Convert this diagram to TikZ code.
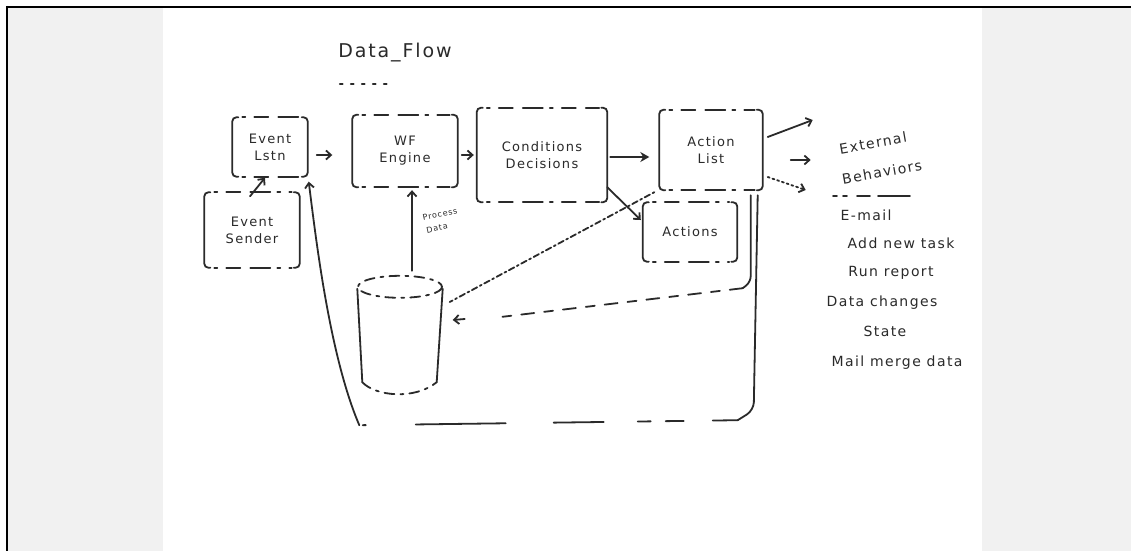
\documentclass[tikz,border=0pt]{standalone}
\usepackage{fontspec}
\setsansfont[LetterSpace=10]{DejaVu Sans}
\usetikzlibrary{arrows.meta,calc}

\definecolor{sidegrey}{HTML}{F1F1F1}
\definecolor{pen}{HTML}{2A2A2A}

\tikzset{
  ink/.style={draw=pen, line width=1.8pt, line cap=round},
  hand/.style={font=\sffamily\fontsize{13}{17}\selectfont, text=pen, align=center},
  boxnode/.style={hand, inner sep=0pt, minimum width=#1},
  arr/.style={ink, -{Straight Barb[length=5pt,width=9pt]}},
  sidestroke/.style={ink, rounded corners=4pt},
  rimstroke/.style={ink, dash pattern=on 3pt off 9pt on 14pt off 10pt on 20pt off 7pt},
  lighttext/.style={hand, font=\sffamily\fontsize{14}{18}\selectfont},
  tinytext/.style={hand, font=\sffamily\fontsize{8}{9}\selectfont, inner sep=1pt},
}

% draws the broken hand-drawn outline of a box node
\newcommand{\sketchbox}[1]{%
  \draw[sidestroke] ($(#1.north west)+(6,0)$) -- (#1.north west) -- (#1.south west) -- ($(#1.south west)+(6,0)$);
  \draw[sidestroke] ($(#1.north east)+(-6,0)$) -- (#1.north east) -- (#1.south east) -- ($(#1.south east)+(-6,0)$);
  \draw[rimstroke] ($(#1.north west)+(10,0)$) -- ($(#1.north east)+(-8,0)$);
  \draw[rimstroke] ($(#1.south west)+(10,0)$) -- ($(#1.south east)+(-8,0)$);
}

\begin{document}
\begin{tikzpicture}[x=1pt, y=-1pt]
  \useasboundingbox (0,0) rectangle (1131,551);
  % page and side margins
  \fill[white] (0,0) rectangle (1131,551);
  \fill[sidegrey] (8,8) rectangle (163,551);
  \fill[sidegrey] (982,8) rectangle (1131,551);
  \draw[black, line width=2.2pt] (6,7) -- (1131,7);
  \draw[black, line width=2.2pt] (7,6) -- (7,551);

  % title
  \node[hand, font=\sffamily\fontsize{19}{22}\selectfont] (title) at (395,53) {Data\_Flow};
  \draw[ink, dash pattern=on 3pt off 8pt] ($(title.south west)+(5,18)$) -- ($(title.south west)+(55,18)$);

  % process boxes
  \node[boxnode=75pt, minimum height=59pt] (lstn) at (270,147) {Event\\Lstn};
  \node[boxnode=95pt, minimum height=75pt] (sender) at (252,230) {Event\\Sender};
  \node[boxnode=105pt, minimum height=72pt] (wf) at (405,151) {WF\\Engine};
  \node[boxnode=130pt, minimum height=94pt] (cond) at (542,155) {Conditions\\Decisions};
  \node[boxnode=103pt, minimum height=80pt] (alist) at (711,150) {Action\\List};
  \node[boxnode=94pt, minimum height=59pt] (acts) at (690,232) {Actions};
  \foreach \b in {lstn,sender,wf,cond,alist,acts} {\sketchbox{\b}}

  % data store
  \node[inner sep=0pt, minimum width=85pt, minimum height=122pt] (db) at (400,337) {};
  \draw[ink, dash pattern=on 10pt off 6pt on 3pt off 6pt] ($(db.north)+(0,11)$) ellipse [x radius=42, y radius=11];
  \draw[ink] ($(db.north west)+(0,13)$) -- ($(db.south west)+(5,-16)$);
  \draw[ink] ($(db.north east)+(0,13)$) -- ($(db.south east)+(-6,-16)$);
  \draw[ink, dash pattern=on 10pt off 6pt on 3pt off 6pt] ($(db.south west)+(5,-16)$)
    .. controls ($(db.south west)+(18,-2)$) and ($(db.south east)+(-28,2)$) .. ($(db.south east)+(-6,-16)$);

  % main flow
  \draw[arr] ($(lstn.east)+(9,8)$) -- ($(wf.west)+(-20,4)$);
  \draw[arr] ($(wf.east)+(4,4)$) -- ($(cond.west)+(-3,0)$);
  \draw[arr, -{Stealth[length=9pt,width=10pt]}] ($(cond.east)+(3,2)$) -- ($(alist.west)+(-10,7)$);
  \draw[arr] ($(sender.north)+(-2,4)$) -- ($(lstn.south)+(-5,1)$);
  \draw[arr] ($(cond.south east)+(0,-15)$) -- ($(acts.west)+(-2,-12)$);
  \draw[arr] ($(db.north)+(12,-5)$) -- ($(wf.south)+(7,3)$);
  \node[tinytext, rotate=12] (proc1) at (440,214) {Process};
  \node[tinytext, rotate=12] (proc2) at (437,228) {Data};

  % outputs to external behaviours
  \draw[arr] ($(alist.east)+(5,-13)$) -- ($(alist.east)+(50,-30)$);
  \draw[arr] ($(alist.east)+(28,10)$) -- ($(alist.east)+(48,10)$);
  \draw[arr, dash pattern=on 2pt off 3pt] ($(alist.east)+(5,27)$) -- ($(alist.east)+(43,40)$);

  % data written back
  \draw[ink, dash pattern=on 2pt off 3pt on 6pt off 3pt] ($(alist.south west)+(-5,2)$) -- ($(db.east)+(7,-35)$);
  \coordinate (ret) at ($(alist.south east)+(-12,98)$);
  \draw[ink, rounded corners=6pt] ($(alist.south east)+(-12,5)$) -- ($(ret)+(0,-6)$) -- ($(ret)+(-8,0)$);
  \draw[ink, dash pattern=on 13pt off 10pt on 9pt off 10pt] ($(ret)+(-8,0)$) -- ($(db.east)+(58,-20)$);
  \draw[arr] ($(db.east)+(22,-18)$) -- ($(db.east)+(10,-17)$);

  % loop back to the listener
  \coordinate (lr) at ($(alist.south east)+(-9,220)$);
  \coordinate (ll) at ($(db.south west)+(2,27)$);
  \draw[ink, rounded corners=8pt] ($(alist.south east)+(-5,5)$) -- (lr) -- ($(lr)+(-16,10)$);
  \draw[ink, dash pattern=on 25pt off 29pt on 18pt off 15pt on 13pt off 34pt on 50pt off 48pt on 90pt off 50pt on 3pt off 5pt]
    ($(lr)+(-16,10)$) -- (ll);
  \draw[arr] (ll) .. controls ($(ll)+(-30,-70)$) and ($(lstn.south east)+(8,60)$) .. ($(lstn.south east)+(1,5)$);

  % external behaviours
  \node[lighttext, rotate=10, inner sep=1pt] (ext1) at (873,143) {External};
  \node[lighttext, rotate=10, inner sep=1pt] (ext2) at (882,172) {Behaviors};
  \draw[ink, dash pattern=on 4pt off 6pt on 4pt off 10pt on 13pt off 8pt on 32pt off 0pt] (833,196) -- (910,196);
  \node[lighttext] (b1) at (866,215) {E-mail};
  \node[lighttext] (b2) at (901,243) {Add new task};
  \node[lighttext] (b3) at (891,273) {Run report};
  \node[lighttext] (b4) at (882,303) {Data changes};
  \node[lighttext] (b5) at (885,331) {State};
  \node[lighttext] (b6) at (897,363) {Mail merge data};
\end{tikzpicture}
\end{document}
